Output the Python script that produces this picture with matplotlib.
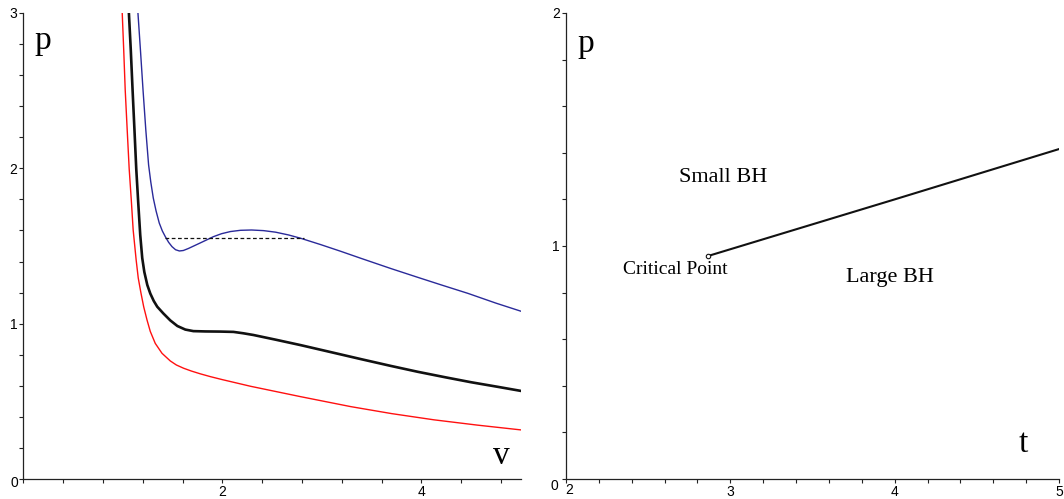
import matplotlib
matplotlib.use("Agg")
import matplotlib.pyplot as plt
from matplotlib.ticker import MultipleLocator, FixedLocator

# ---------------- data ----------------
# Left panel: isotherms p(v)
red_v = [0.993, 1.008, 1.023, 1.043, 1.063, 1.084, 1.103, 1.133, 1.154, 1.181,
         1.209, 1.242, 1.275, 1.325, 1.393, 1.476, 1.537, 1.610, 1.688, 1.778,
         1.879, 1.997, 2.282, 2.786, 3.289, 3.700, 4.125, 4.560, 5.000]
red_p = [3.000, 2.762, 2.505, 2.247, 1.996, 1.797, 1.603, 1.410, 1.294, 1.198,
         1.108, 1.024, 0.950, 0.873, 0.809, 0.760, 0.734, 0.713, 0.695, 0.677,
         0.659, 0.640, 0.597, 0.530, 0.466, 0.421, 0.381, 0.347, 0.316]

black_v = [1.060, 1.079, 1.097, 1.116, 1.134, 1.154, 1.174, 1.194, 1.215, 1.245,
           1.275, 1.310, 1.345, 1.406, 1.476, 1.547, 1.627, 1.708, 1.829, 1.980,
           2.111, 2.211, 2.312, 2.534, 2.785, 3.088, 3.390, 3.692, 3.964, 4.246,
           4.498, 4.770, 5.000]
black_p = [3.000, 2.762, 2.505, 2.247, 1.996, 1.777, 1.571, 1.423, 1.333, 1.249,
           1.194, 1.146, 1.109, 1.066, 1.021, 0.985, 0.962, 0.952, 0.950, 0.949,
           0.947, 0.938, 0.927, 0.897, 0.862, 0.817, 0.772, 0.728, 0.690, 0.654,
           0.623, 0.593, 0.567]

blue_v = [1.151, 1.176, 1.202, 1.230, 1.258, 1.280, 1.305, 1.333, 1.365, 1.396,
          1.426, 1.459, 1.493, 1.529, 1.567, 1.607, 1.658, 1.718, 1.778, 1.844,
          1.909, 1.990, 2.080, 2.181, 2.292, 2.413, 2.534, 2.665, 2.785, 2.987,
          3.188, 3.390, 3.692, 3.964, 4.196, 4.467, 4.749, 5.000]
blue_p = [3.000, 2.762, 2.505, 2.247, 2.022, 1.912, 1.809, 1.726, 1.648, 1.597,
          1.560, 1.524, 1.496, 1.476, 1.468, 1.471, 1.484, 1.502, 1.520, 1.540,
          1.560, 1.579, 1.593, 1.601, 1.603, 1.599, 1.589, 1.571, 1.550, 1.509,
          1.466, 1.421, 1.355, 1.298, 1.250, 1.195, 1.132, 1.080]

maxwell_v = [1.426, 2.820]
maxwell_p = [1.550, 1.550]

# Right panel: coexistence line p(t)
coex_t = [2.864, 4.000, 5.000]
coex_p = [0.957, 1.200, 1.416]
crit_t, crit_p = 2.864, 0.957

left_xticks = [2, 4]
left_yticks = [1, 2, 3]
right_xticks = [3, 4, 5]
right_yticks = [1, 2]

# ---------------- figure ----------------
W, H = 1064, 499
fig = plt.figure(figsize=(W / 100, H / 100), dpi=100)

def px_axes(x0, x1, y_top, y_bot):
    return fig.add_axes([x0 / W, (H - y_bot) / H, (x1 - x0) / W, (y_bot - y_top) / H])

axL = px_axes(23.4, 521, 13, 479)
axR = px_axes(566, 1059, 13, 479)

serif = ["Liberation Serif", "DejaVu Serif"]
sans = ["Liberation Sans Narrow", "Liberation Sans", "DejaVu Sans"]

def style(ax, xlim, ylim, xmin_step, ymin_step):
    ax.set_xlim(*xlim)
    ax.set_ylim(*ylim)
    for s in ("top", "right"):
        ax.spines[s].set_visible(False)
    for s in ("left", "bottom"):
        ax.spines[s].set_linewidth(0.9)
        ax.spines[s].set_color("#222222")
    ax.xaxis.set_minor_locator(MultipleLocator(xmin_step))
    ax.yaxis.set_minor_locator(MultipleLocator(ymin_step))
    ax.tick_params(which="both", direction="out", length=3, width=0.8,
                   color="#222222", labelsize=10, pad=1.5)
    ax.patch.set_alpha(0)

# Left panel
axL.plot(red_v, red_p, color="#ff1010", lw=1.0, solid_joinstyle="round")
axL.plot(black_v, black_p, color="#111111", lw=1.9, solid_joinstyle="round")
axL.plot(blue_v, blue_p, color="#2a2a9a", lw=1.0, solid_joinstyle="round")
axL.plot(maxwell_v, maxwell_p, color="#111111", lw=0.9, ls=(0, (3, 2)))
style(axL, (0, 5), (0, 3), 0.4, 0.2)
axL.xaxis.set_major_locator(FixedLocator(left_xticks))
axL.yaxis.set_major_locator(FixedLocator(left_yticks))
axL.set_xticklabels([str(v) for v in left_xticks], family=sans, fontsize=10)
axL.set_yticklabels([str(v) for v in left_yticks], family=sans, fontsize=10)
axL.text(-0.09, -0.025, "0", family=sans, fontsize=10, ha="center", va="center")
axL.text(0.197, 2.82, "p", family=serif, fontsize=24, ha="center", va="center")
axL.text(4.8, 0.15, "v", family=serif, fontsize=24, ha="center", va="center")

# Right panel
axR.plot(coex_t, coex_p, color="#111111", lw=1.5)
axR.plot([crit_t], [crit_p], marker="o", ms=3.2, mfc="white", mec="#111111",
         mew=0.8, ls="none")
style(axR, (2, 5), (0, 2), 0.2, 0.2)
axR.xaxis.set_major_locator(FixedLocator([2] + right_xticks))
axR.yaxis.set_major_locator(FixedLocator(right_yticks))
axR.set_xticklabels([""] + [str(v) for v in right_xticks], family=sans, fontsize=10)
axR.set_yticklabels([str(v) for v in right_yticks], family=sans, fontsize=10)
axR.text(1.93, -0.03, "0", family=sans, fontsize=10, ha="center", va="center")
axR.text(2.02, -0.048, "2", family=sans, fontsize=10, ha="center", va="center")
axR.text(2.12, 1.87, "p", family=serif, fontsize=24, ha="center", va="center")
axR.text(4.78, 0.15, "t", family=serif, fontsize=24, ha="center", va="center")
axR.text(2.955, 1.292, "Small BH", family=serif, fontsize=16, ha="center", va="center")
axR.text(3.97, 0.863, "Large BH", family=serif, fontsize=16, ha="center", va="center")
axR.text(2.663, 0.897, "Critical Point", family=serif, fontsize=14, ha="center", va="center")

fig.savefig("out.png", dpi=100)
